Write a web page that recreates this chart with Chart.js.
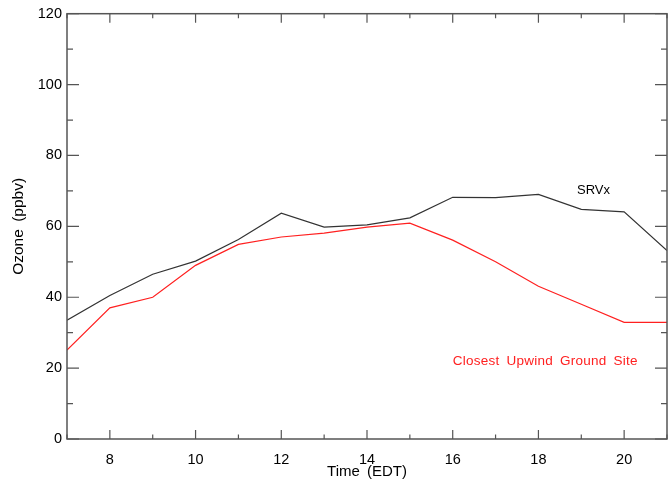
<!DOCTYPE html>
<html>
<head>
<meta charset="utf-8">
<script src="https://cdn.jsdelivr.net/npm/chart.js@4"></script>
<style>
html,body{margin:0;padding:0;background:#fff;}
#wrap{width:668px;height:482px;}
</style>
</head>
<body>
<div id="wrap"><canvas id="c" width="668" height="482"></canvas></div>
<script>
const hours = [7,8,9,10,11,12,13,14,15,16,17,18,19,20,21];
const srvx = [33.5,40.5,46.5,50.2,56.3,63.7,59.8,60.4,62.4,68.2,68.1,69.0,64.8,64.1,53.2];
const upwind = [25.1,37.0,40.0,49.0,54.9,57.0,58.1,59.8,60.9,56.1,50.0,43.1,38.0,32.9,32.9];
const seriesNames = ['SRVx','Closest Upwind Ground Site'];
const xTitle = 'Time (EDT)';
const yTitle = 'Ozone (ppbv)';

const FONT = 'Liberation Sans, Arial, Helvetica, sans-serif';
const AXIS = '#555';

const boxPlugin = {
  id: 'box',
  beforeDraw(chart) {
    chart.ctx.wordSpacing = '3px';
  },
  afterDraw(chart) {
    const ctx = chart.ctx, a = chart.chartArea;
    const xs = chart.scales.x, ys = chart.scales.y;
    ctx.save();
    ctx.strokeStyle = AXIS;
    ctx.lineWidth = 1.5;
    ctx.strokeRect(a.left, a.top, a.right - a.left, a.bottom - a.top);
    ctx.lineWidth = 1.2;
    ctx.beginPath();
    for (let v = 7; v <= 21; v++) {
      const px = xs.getPixelForValue(v);
      const len = v % 2 === 0 ? 9 : 4.5;
      ctx.moveTo(px, a.bottom); ctx.lineTo(px, a.bottom - len);
      ctx.moveTo(px, a.top); ctx.lineTo(px, a.top + len);
    }
    for (let v = 0; v <= 120; v += 10) {
      const py = ys.getPixelForValue(v);
      const len = v % 20 === 0 ? 12 : 6;
      ctx.moveTo(a.left, py); ctx.lineTo(a.left + len, py);
      ctx.moveTo(a.right, py); ctx.lineTo(a.right - len, py);
    }
    ctx.stroke();
    ctx.textBaseline = 'middle';
    ctx.textAlign = 'left';
    ctx.font = '13px ' + FONT;
    ctx.fillStyle = '#000';
    ctx.letterSpacing = '0px';
    ctx.fillText(seriesNames[0], xs.getPixelForValue(18.9), ys.getPixelForValue(70.0));
    ctx.font = '13.5px ' + FONT;
    ctx.letterSpacing = '0.25px';
    ctx.fillStyle = '#ff2020';
    ctx.fillText(seriesNames[1], xs.getPixelForValue(16.0), ys.getPixelForValue(21.9));
    ctx.restore();
  }
};

new Chart(document.getElementById('c'), {
  type: 'line',
  data: {
    labels: hours,
    datasets: [
      { label: seriesNames[0], data: hours.map((h,i)=>({x:h,y:srvx[i]})), borderColor:'#333', borderWidth:1.2, pointRadius:0, tension:0, fill:false },
      { label: seriesNames[1], data: hours.map((h,i)=>({x:h,y:upwind[i]})), borderColor:'#ff2020', borderWidth:1.2, pointRadius:0, tension:0, fill:false }
    ]
  },
  options: {
    responsive: false,
    animation: false,
    devicePixelRatio: 1,
    layout: { padding: { top: 13, right: 1, left: 0, bottom: 0 } },
    plugins: { legend: { display: false }, tooltip: { enabled: false } },
    scales: {
      x: {
        type: 'linear', min: 7, max: 21,
        grid: { display: false, drawTicks: false },
        border: { display: false },
        ticks: {
          stepSize: 1, autoSkip: false, maxRotation: 0, padding: 12,
          color: '#000', font: { family: FONT, size: 14.5 },
          callback: v => (v % 2 === 0 && v > 7 && v < 21) ? String(v) : ''
        },
        title: { display: true, text: xTitle, color: '#000', font: { family: FONT, size: 15 }, padding: { top: 0, bottom: 1 } },
        afterFit(s) { s.height = 43; s.paddingLeft = 0; s.paddingRight = 0; }
      },
      y: {
        min: 0, max: 120,
        grid: { display: false, drawTicks: false },
        border: { display: false },
        ticks: {
          stepSize: 10, autoSkip: false, padding: 5,
          color: '#000', font: { family: FONT, size: 14.5 },
          callback: v => (v % 20 === 0) ? String(v) : ''
        },
        title: { display: true, text: yTitle, color: '#000', font: { family: FONT, size: 15.5 }, padding: { top: 9, bottom: 0 } },
        afterFit(s) { s.width = 67; }
      }
    }
  },
  plugins: [boxPlugin]
});
</script>
</body>
</html>
